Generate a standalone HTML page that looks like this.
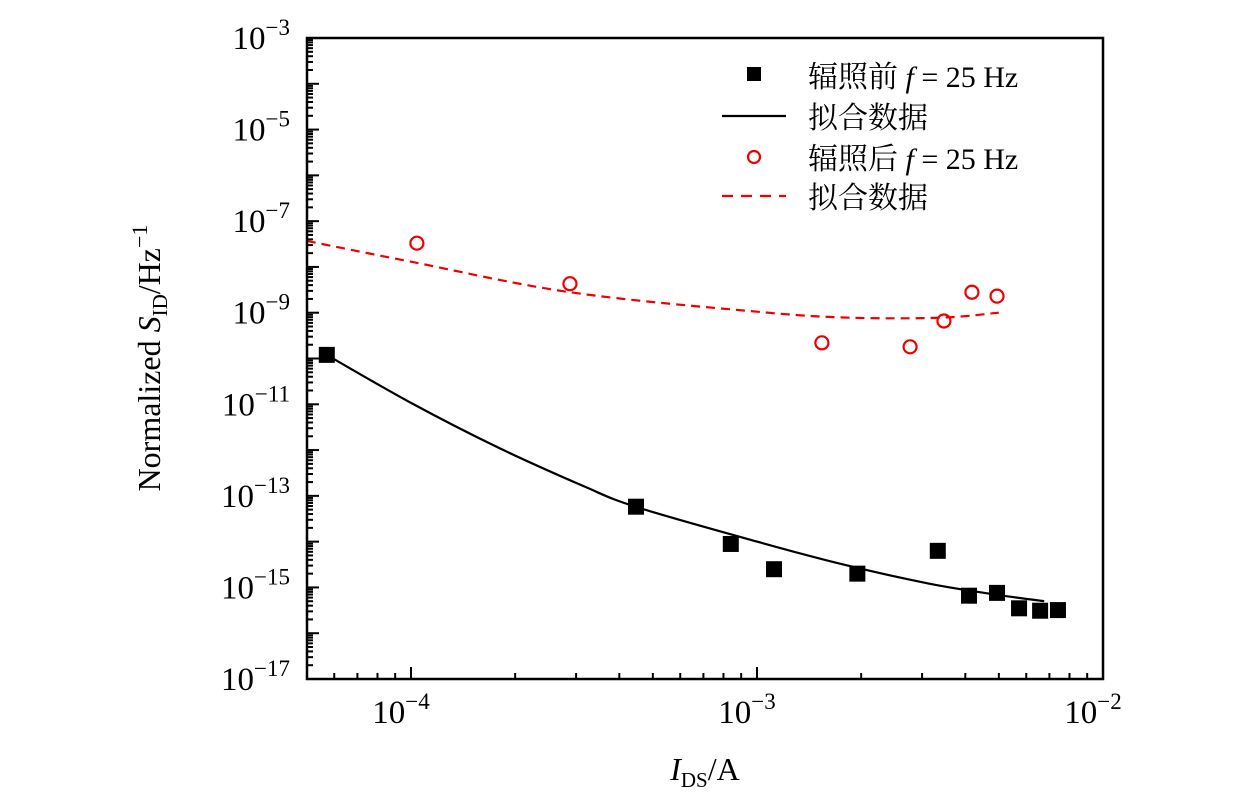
<!DOCTYPE html>
<html><head><meta charset="utf-8"><style>
html,body{margin:0;padding:0;background:#fff;}
svg{display:block;font-family:"Liberation Serif","Noto Serif CJK SC",serif;}
</style></head><body>
<svg id="chart" width="1260" height="803" viewBox="0 0 1260 803">
<g id="plot"></g>
<g font-family='"Liberation Serif","Noto Serif CJK SC",serif' font-size="30">
  <rect x="747" y="67" width="14" height="14" fill="#000"/>
  <text x="808" y="87">辐照前 <tspan font-style="italic">f</tspan> = 25 Hz</text>
  <line x1="722" y1="116" x2="786" y2="116" stroke="#000" stroke-width="2.2"/>
  <text x="808" y="128">拟合数据</text>
  <circle cx="754" cy="157" r="6" fill="none" stroke="#e00" stroke-width="2.2"/>
  <text x="808" y="169">辐照后 <tspan font-style="italic">f</tspan> = 25 Hz</text>
  <line x1="722" y1="196" x2="786" y2="196" stroke="#e00" stroke-width="2.2" stroke-dasharray="11,8"/>
  <text x="808" y="208">拟合数据</text>
</g>
<text transform="translate(160,358) rotate(-90)" text-anchor="middle" font-size="32">Normalized <tspan font-style="italic">S</tspan><tspan font-size="21" dy="7">ID</tspan><tspan dy="-7">/Hz</tspan><tspan font-size="22" dy="-13">−1</tspan></text>
<text x="705" y="780" text-anchor="middle" font-size="32"><tspan font-style="italic">I</tspan><tspan font-size="21" dy="7">DS</tspan><tspan dy="-7">/A</tspan></text>
</svg>
<script>
const beforeX=[5.71e-5,4.47e-4,8.4e-4,1.12e-3,1.95e-3,3.33e-3,4.1e-3,4.94e-3,5.72e-3,6.58e-3,7.41e-3];
const beforeY=[1.2e-10,5.8e-14,8.9e-15,2.5e-15,2.0e-15,6.3e-15,6.6e-16,7.6e-16,3.5e-16,3.1e-16,3.2e-16];
const afterX=[1.04e-4,2.88e-4,1.54e-3,2.77e-3,3.47e-3,4.18e-3,4.94e-3];
const afterY=[3.3e-8,4.3e-9,2.2e-10,1.8e-10,6.6e-10,2.8e-9,2.3e-9];
const fitBeforeX=[5.71e-5,1e-4,1.78e-4,3.16e-4,4.47e-4,1e-3,1.78e-3,3.16e-3,5.01e-3,6.76e-3];
const fitBeforeY=[1.2e-10,1.07e-11,1.15e-12,1.62e-13,5.75e-14,1.0e-14,3.16e-15,1.2e-15,6.8e-16,5.0e-16];
const fitAfterX=[5e-5,1e-4,2.88e-4,1e-3,1.86e-3,3.4e-3,5.0e-3];
const fitAfterY=[3.7e-8,1.3e-8,2.8e-9,1.05e-9,7.8e-10,7.8e-10,1.0e-9];
const xTickExp=[-4,-3,-2];
const yTickExp=[-17,-15,-13,-11,-9,-7,-5,-3];
const L=307,R=1103,T=38,B=679;
const xMinL=-4-(411-307)/346, xMaxL=-2;
function sx(v){return L+(Math.log10(v)-xMinL)/(xMaxL-xMinL)*(R-L);}
function sy(v){return B-(Math.log10(v)+17)/14*(B-T);}
const NS="http://www.w3.org/2000/svg";
const g=document.getElementById('plot');
function mk(t,a){const e=document.createElementNS(NS,t);for(const k in a)e.setAttribute(k,a[k]);g.appendChild(e);return e;}
for(let d=-5;d<=-2;d++){for(let m=1;m<10;m++){const v=m*Math.pow(10,d);const lv=Math.log10(v);if(lv<xMinL-1e-9||lv>xMaxL+1e-9)continue;const x=sx(v);const len=m===1?12:6;
const t=mk('line',{x1:x,y1:B,x2:x,y2:B-len,stroke:'#000','stroke-width':2});

}}
for(let d=-17;d<=-3;d++){for(let m=1;m<10;m++){if(d===-3&&m>1)continue;const v=m*Math.pow(10,d);const y=sy(v);const len=m===1?12:6;
const t=mk('line',{x1:L,y1:y,x2:L+len,y2:y,stroke:'#000','stroke-width':2});

}}
xTickExp.forEach(e=>{const t=mk('text',{x:sx(Math.pow(10,e))-10,y:723,'text-anchor':'middle','font-size':33});


t.innerHTML='10<tspan font-size="23" dy="-14">−'+(-e)+'</tspan>';});
yTickExp.forEach(e=>{const t=mk('text',{x:290,y:sy(Math.pow(10,e))+11,'text-anchor':'end','font-size':33});


t.innerHTML='10<tspan font-size="23" dy="-14">−'+(-e)+'</tspan>';});
function path(xs,ys){
  const p=xs.map((x,i)=>[sx(x),sy(ys[i])]);
  let d='M'+p[0][0].toFixed(1)+','+p[0][1].toFixed(1);
  for(let i=0;i<p.length-1;i++){
    const p0=p[Math.max(0,i-1)],p1=p[i],p2=p[i+1],p3=p[Math.min(p.length-1,i+2)];
    const c1=[p1[0]+(p2[0]-p0[0])/6,p1[1]+(p2[1]-p0[1])/6];
    const c2=[p2[0]-(p3[0]-p1[0])/6,p2[1]-(p3[1]-p1[1])/6];
    d+=' C'+c1.map(v=>v.toFixed(1)).join(',')+' '+c2.map(v=>v.toFixed(1)).join(',')+' '+p2.map(v=>v.toFixed(1)).join(',');
  }
  return d;}
const f1=mk('path',{d:path(fitBeforeX,fitBeforeY),fill:'none',stroke:'#000','stroke-width':2.2,'stroke-linejoin':'round'});


const f2=mk('path',{d:path(fitAfterX,fitAfterY),fill:'none',stroke:'#e00','stroke-width':2.2,'stroke-dasharray':'9,6'});


beforeX.forEach((x,i)=>{const r=mk('rect',{x:sx(x)-8,y:sy(beforeY[i])-8,width:16,height:16,fill:'#000'});

});
afterX.forEach((x,i)=>{const c=mk('circle',{cx:sx(x),cy:sy(afterY[i]),r:6.5,fill:'none',stroke:'#e00','stroke-width':2.2});

});
const fr=mk('rect',{x:L,y:T,width:R-L,height:B-T,fill:'none',stroke:'#000','stroke-width':2.5});


</script>
</body></html>
